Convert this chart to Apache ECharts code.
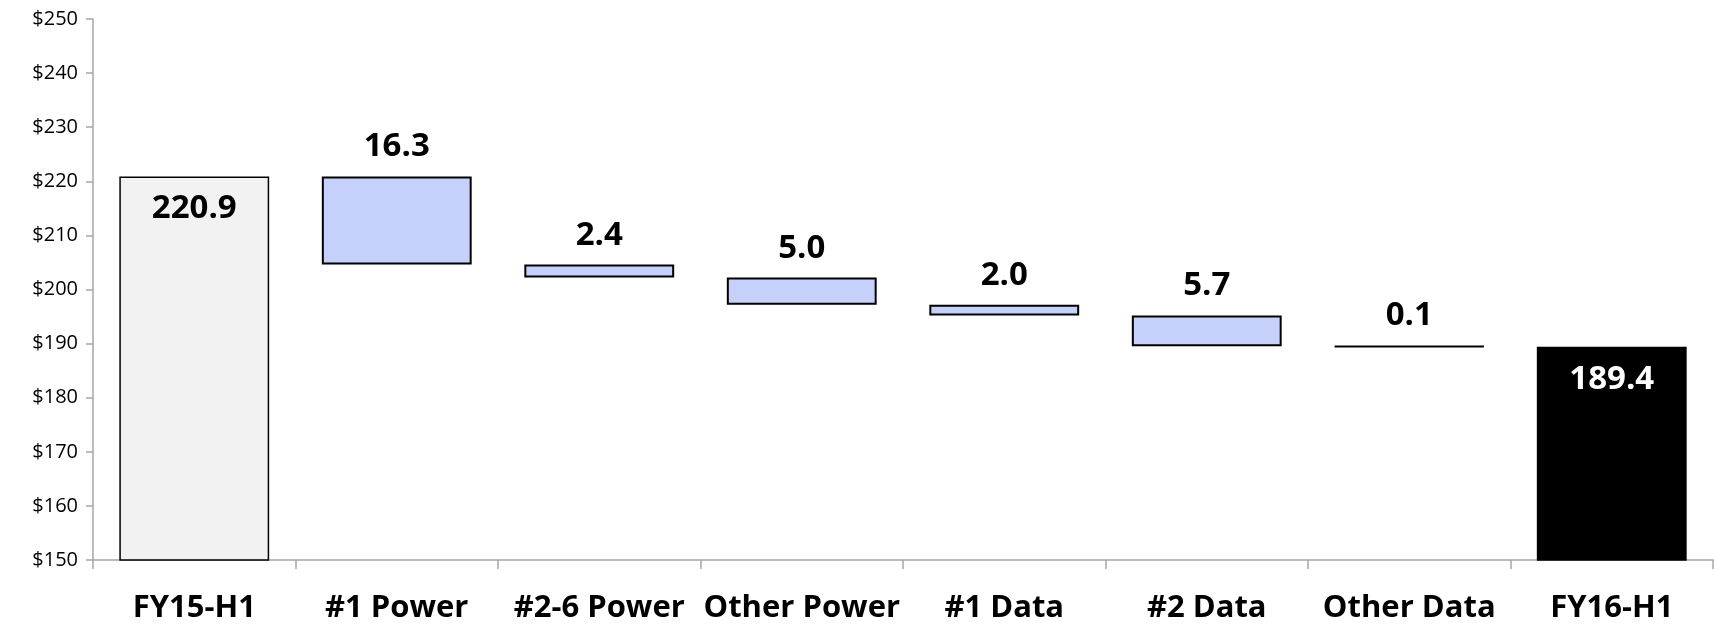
<!DOCTYPE html>
<html>
<head>
<meta charset="UTF-8">
<title>Bridge FY15-H1 to FY16-H1</title>
<script src="https://cdn.jsdelivr.net/npm/echarts@6/dist/echarts.min.js"></script>
<style>
  html, body { margin: 0; padding: 0; background: #fff; }
</style>
</head>
<body>
<div id="main" style="width: 1719px;height:624px;"></div>
<script type="text/javascript">
// categories and values
var categories = ['FY15-H1', '#1 Power', '#2-6 Power', 'Other Power', '#1 Data', '#2 Data', 'Other Data', 'FY16-H1'];
var changes = [220.9, 16.3, 2.4, 5.0, 2.0, 5.7, 0.1, 189.4];
var kinds = ['total', 'down', 'down', 'down', 'down', 'down', 'down', 'total'];
var yTicks = [150, 160, 170, 180, 190, 200, 210, 220, 230, 240, 250];

// running level for the waterfall
var baseVals = [];
var barVals = [];
var level = 0;
for (var i = 0; i < categories.length; i++) {
    if (kinds[i] === 'total') {
        baseVals.push(0);
        barVals.push(changes[i]);
        level = changes[i];
    } else {
        level = Math.round((level - changes[i]) * 10) / 10;
        baseVals.push(level);
        barVals.push(changes[i]);
    }
}

var font = '"Open Sans", "Liberation Sans", sans-serif';

var barData = barVals.map(function (v, i) {
    var item = { value: v };
    if (i === 0) {
        item.itemStyle = { color: '#f2f2f2', borderColor: '#000', borderWidth: 1.5 };
        item.label = { position: 'insideTop', distance: 16, color: '#000' };
    } else if (i === categories.length - 1) {
        item.itemStyle = { color: '#000', borderColor: '#000', borderWidth: 1.5 };
        item.label = { position: 'insideTop', distance: 16, color: '#fff' };
    } else {
        item.itemStyle = { color: '#c5d0fb', borderColor: '#000', borderWidth: 2 };
        item.label = { position: 'top', distance: 13, color: '#000' };
    }
    return item;
});

var myChart = echarts.init(document.getElementById('main'));

option = {
    animation: false,
    grid: { left: 93, right: 6, top: 19, bottom: 63 },
    xAxis: {
        type: 'category',
        data: categories,
        axisLine: { lineStyle: { color: '#a6a6a6', width: 1.5 } },
        axisTick: { show: true, length: 9, lineStyle: { color: '#a6a6a6', width: 1.5 } },
        axisLabel: {
            color: '#000', fontFamily: font, fontWeight: 'bold', fontSize: 31,
            margin: 33, interval: 0
        }
    },
    yAxis: {
        type: 'value',
        min: yTicks[0],
        max: yTicks[yTicks.length - 1],
        interval: 10,
        splitLine: { show: false },
        axisLine: { show: true, lineStyle: { color: '#a6a6a6', width: 1.5 } },
        axisTick: { show: true, length: 7, lineStyle: { color: '#a6a6a6', width: 1.5 } },
        axisLabel: {
            color: '#000', fontFamily: font, fontSize: 20, margin: 15,
            formatter: function (v) { return '$' + v; }
        }
    },
    series: [
        {
            type: 'bar',
            stack: 'w',
            data: baseVals,
            barWidth: '74%',
            itemStyle: { color: 'transparent', borderColor: 'transparent' },
            silent: true
        },
        {
            type: 'bar',
            stack: 'w',
            data: barData,
            barWidth: '74%',
            label: {
                show: true,
                fontFamily: font,
                fontWeight: 'bold',
                fontSize: 33,
                formatter: function (p) { return p.value.toFixed(1); }
            }
        }
    ]
};
myChart.setOption(option);
</script>
</body>
</html>
